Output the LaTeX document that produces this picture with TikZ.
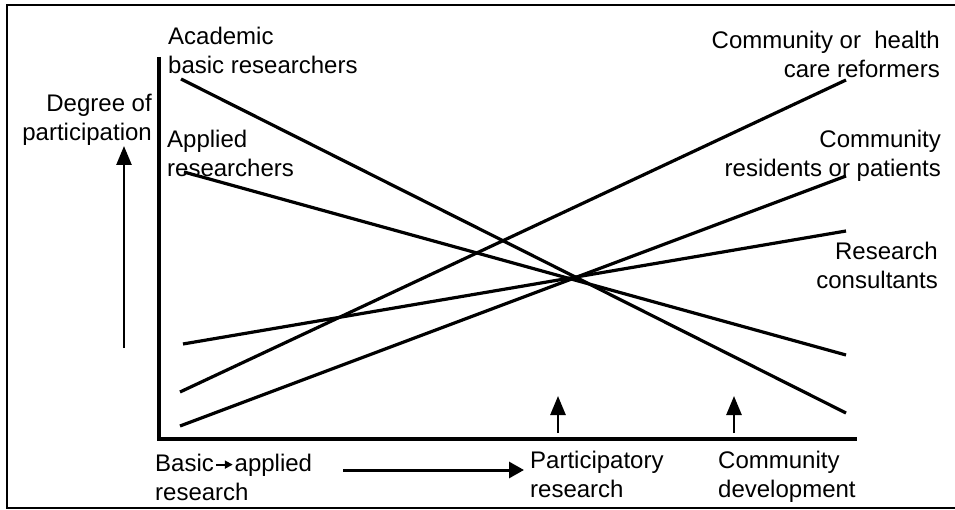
\documentclass[tikz,border=0pt]{standalone}
\usepackage{fontspec}
\setmainfont{Liberation Sans}
\usetikzlibrary{arrows.meta}
\begin{document}
\begin{tikzpicture}[x=1pt,y=-1pt,
  lbl/.style={inner sep=0pt,font=\fontsize{24}{28.5}\selectfont},
  lblL/.style={lbl,align=left,anchor=north west},
  lblR/.style={lbl,align=right,anchor=north east},
  trend/.style={line width=3.2pt},
  axis/.style={line width=3.6pt},
  upar/.style={line width=2.6pt,-{Triangle[length=19pt,width=15pt]}},
  frame/.style={line width=1.8pt}]
\useasboundingbox (0,0) rectangle (955,510);
% frame (left, top, bottom)
\draw[frame] (955,5) -- (7,5) -- (7,508) -- (955,508);
% axes
\coordinate (ytop) at (159,57);
\coordinate (org) at (159,439);
\coordinate (xend) at (857,439);
\draw[axis] (ytop) -- (org) -- (xend);
% trend lines
\coordinate (a1) at (181,79);  \coordinate (a2) at (846,413);
\coordinate (b1) at (184,172); \coordinate (b2) at (846,355);
\coordinate (c1) at (180,392); \coordinate (c2) at (846,80);
\coordinate (d1) at (180,426); \coordinate (d2) at (846,176);
\coordinate (e1) at (183,344); \coordinate (e2) at (846,231);
\draw[trend] (a1) -- (a2);
\draw[trend] (b1) -- (b2);
\draw[trend] (c1) -- (c2);
\draw[trend] (d1) -- (d2);
\draw[trend] (e1) -- (e2);
% labels
\node[lblL] (acad) at (168,27) {Academic\\basic researchers};
\node[lblR] (deg) at (152,94) {Degree of\\participation};
\node[lblL] (appl) at (167,130) {Applied\\researchers};
\node[lblR] (ref) at (940,31) {Community or\ \ health\\care reformers\ };
\node[lblR] (res) at (941,130) {Community\\residents or patients};
\node[lblR] (cons) at (938,242) {Research\\consultants};
\node[lblL] (basic) at (155,454) {Basic\kern1pt\tikz[baseline=-0.55ex]\draw[line width=1.8pt,-{Triangle[length=8pt,width=8pt]}] (0,0) -- (17pt,0);\kern1pt applied\\research};
\node[lblL] (part) at (530,451) {Participatory\\research};
\node[lblL] (dev) at (718,451) {Community\\development};
% arrows
\coordinate (dg1) at (124,348); \coordinate (dg2) at (124,146);
\draw[upar] (dg1) -- (dg2);
\coordinate (p1) at (558,433); \coordinate (p2) at (558,396);
\draw[upar] (p1) -- (p2);
\coordinate (q1) at (734,433); \coordinate (q2) at (734,396);
\draw[upar] (q1) -- (q2);
\coordinate (h1) at (343,470); \coordinate (h2) at (524,470);
\draw[line width=3pt,-{Triangle[length=15pt,width=16pt]}] (h1) -- (h2);
\end{tikzpicture}
\end{document}
